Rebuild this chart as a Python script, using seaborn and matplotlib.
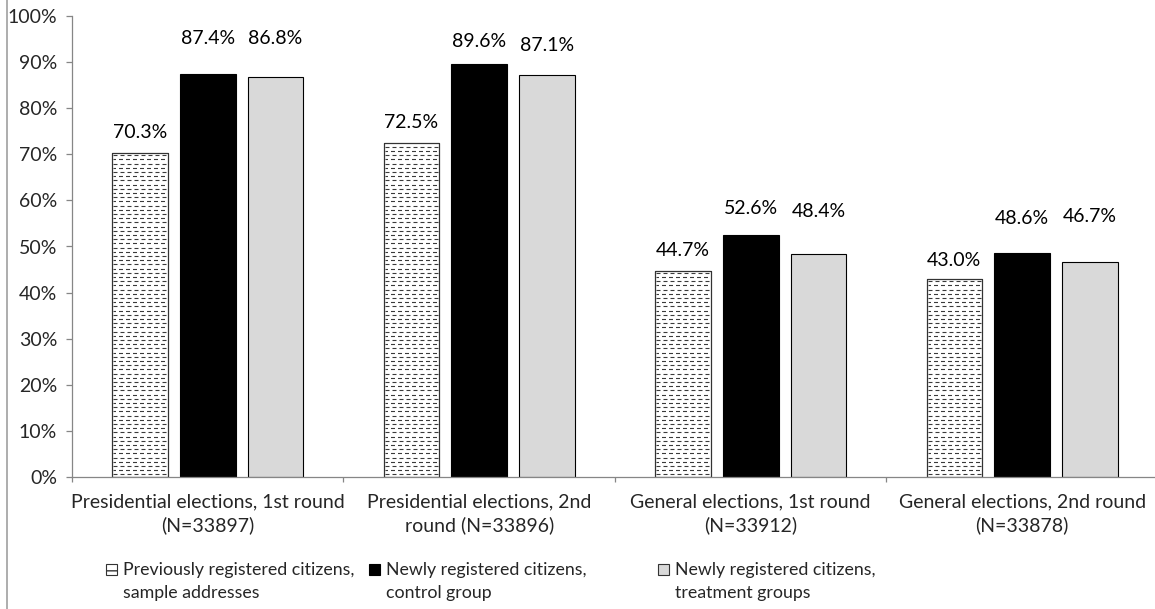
import numpy as np
import pandas as pd
import matplotlib
matplotlib.use("Agg")
import matplotlib.pyplot as plt
from matplotlib.patches import Rectangle
from matplotlib.lines import Line2D
import seaborn as sns

# ---- data ----
elections = [
    "Presidential elections, 1st round\n(N=33897)",
    "Presidential elections, 2nd\nround (N=33896)",
    "General elections, 1st round\n(N=33912)",
    "General elections, 2nd round\n(N=33878)",
]
groups = [
    "Previously registered citizens,\nsample addresses",
    "Newly registered citizens,\ncontrol group",
    "Newly registered citizens,\ntreatment groups",
]
previously_registered = [70.3, 72.5, 44.7, 43.0]
newly_control = [87.4, 89.6, 52.6, 48.6]
newly_treatment = [86.8, 87.1, 48.4, 46.7]
y_ticks = [0, 10, 20, 30, 40, 50, 60, 70, 80, 90, 100]

# ---- styling ----
W, H, DPI = 1155, 609, 100
PT = 72 / DPI  # points per pixel
sns.set_theme(style="white")
plt.rcParams["font.family"] = ["Lato", "DejaVu Sans"]
plt.rcParams["lines.scale_dashes"] = False
FS = 14
FS_LEGEND = 12.8
GRAY_AXIS = "#868686"
colors = ["white", "black", "#D9D9D9"]

df = pd.DataFrame({
    "election": np.repeat(elections, 3),
    "group": groups * len(elections),
    "turnout": np.ravel(np.column_stack([previously_registered, newly_control, newly_treatment])),
})

fig = plt.figure(figsize=(W / DPI, H / DPI), dpi=DPI)
ax_left, ax_bottom, ax_right, ax_top = 72, 477, 1158, 16
ax = fig.add_axes([ax_left / W, 1 - ax_bottom / H, (ax_right - ax_left) / W, (ax_bottom - ax_top) / H])

sns.barplot(data=df, x="election", y="turnout", hue="group", hue_order=groups,
            order=elections, palette=colors, saturation=1, width=0.75, gap=0.18,
            edgecolor="black", linewidth=0.8, legend=False, ax=ax)

ax.set_xlim(-0.5, 3.5)
ax.set_ylim(0, 100)
ax.set_xlabel("")
ax.set_ylabel("")

# label offsets above each bar (pixels), per group
label_dy = [
    [20, 20, 20, 18],
    [36, 22, 26, 34],
    [38, 30, 42, 45],
]

bars_by_group = list(ax.containers)
for gi, cont in enumerate(bars_by_group):
    for ei, bar in enumerate(cont.patches):
        val = bar.get_height()
        x = bar.get_x() + bar.get_width() / 2
        ax.annotate(f"{val:.1f}%", (x, val), xytext=(0, label_dy[gi][ei] * PT),
                    textcoords="offset points", ha="center", va="center",
                    fontsize=FS, color="black")

# dashed fill pattern for the first group of bars
px_per_unit = (ax_bottom - ax_top) / 100.0
row_step = 4.2 / px_per_unit
on_pt, off_pt = 4 * PT, 3 * PT
for bar in bars_by_group[0].patches:
    x0 = bar.get_x() + 0.004
    x1 = bar.get_x() + bar.get_width() - 0.004
    top = bar.get_height()
    ys = np.arange(row_step * 0.6, top - row_step * 0.4, row_step)
    for k, yv in enumerate(ys):
        offset = 0 if k % 2 == 0 else 1.5 * PT
        ax.plot([x0, x1], [yv, yv], color="#3a3a3a", lw=0.8,
                linestyle=(offset, (on_pt, off_pt)), dash_capstyle="butt",
                zorder=bar.get_zorder() + 0.1)
    ax.add_patch(Rectangle((bar.get_x(), 0), bar.get_width(), top, fill=False,
                           edgecolor="#333333", lw=0.8, zorder=bar.get_zorder() + 0.2))

# axes
for side in ["top", "right"]:
    ax.spines[side].set_visible(False)
for side in ["left", "bottom"]:
    ax.spines[side].set_color(GRAY_AXIS)
    ax.spines[side].set_linewidth(0.9)

ax.set_yticks(y_ticks)
ax.set_yticklabels([f"{t}%" for t in y_ticks], fontsize=FS)
ax.tick_params(axis="y", which="major", direction="out", length=6 * PT,
               width=0.9, color=GRAY_AXIS, pad=9 * PT, left=True)

ax.set_xticks(range(len(elections)))
ax.set_xticklabels(elections, fontsize=FS, linespacing=1.4)
ax.tick_params(axis="x", which="major", length=0, pad=16 * PT)
ax.set_xticks(np.arange(-0.5, len(elections) + 0.5, 1.0), minor=True)
ax.tick_params(axis="x", which="minor", direction="out", length=5 * PT,
               width=0.9, color=GRAY_AXIS, bottom=True)

# legend along the bottom (positions in pixels from the top-left corner)
def fx(x):
    return x / W

def fy(y):
    return 1 - y / H

legend_x = [106, 369, 658]
box = 11
for i, (lab, col) in enumerate(zip(groups, colors)):
    mx, my = legend_x[i], 564
    fig.add_artist(Rectangle((fx(mx), fy(my + box)), box / W, box / H, transform=fig.transFigure,
                             facecolor=col, edgecolor="#333333" if i != 1 else "black",
                             lw=0.8, hatch="--" if i == 0 else None))
    fig.text(fx(mx + box + 6), fy(562), lab, fontsize=FS_LEGEND, ha="left", va="top",
             linespacing=1.55)

# thin frame line at the left edge
fig.add_artist(Line2D([7 / W, 7 / W], [0, 1], color="#A0A0A0", lw=1.2))

fig.savefig("out.png", dpi=DPI)
